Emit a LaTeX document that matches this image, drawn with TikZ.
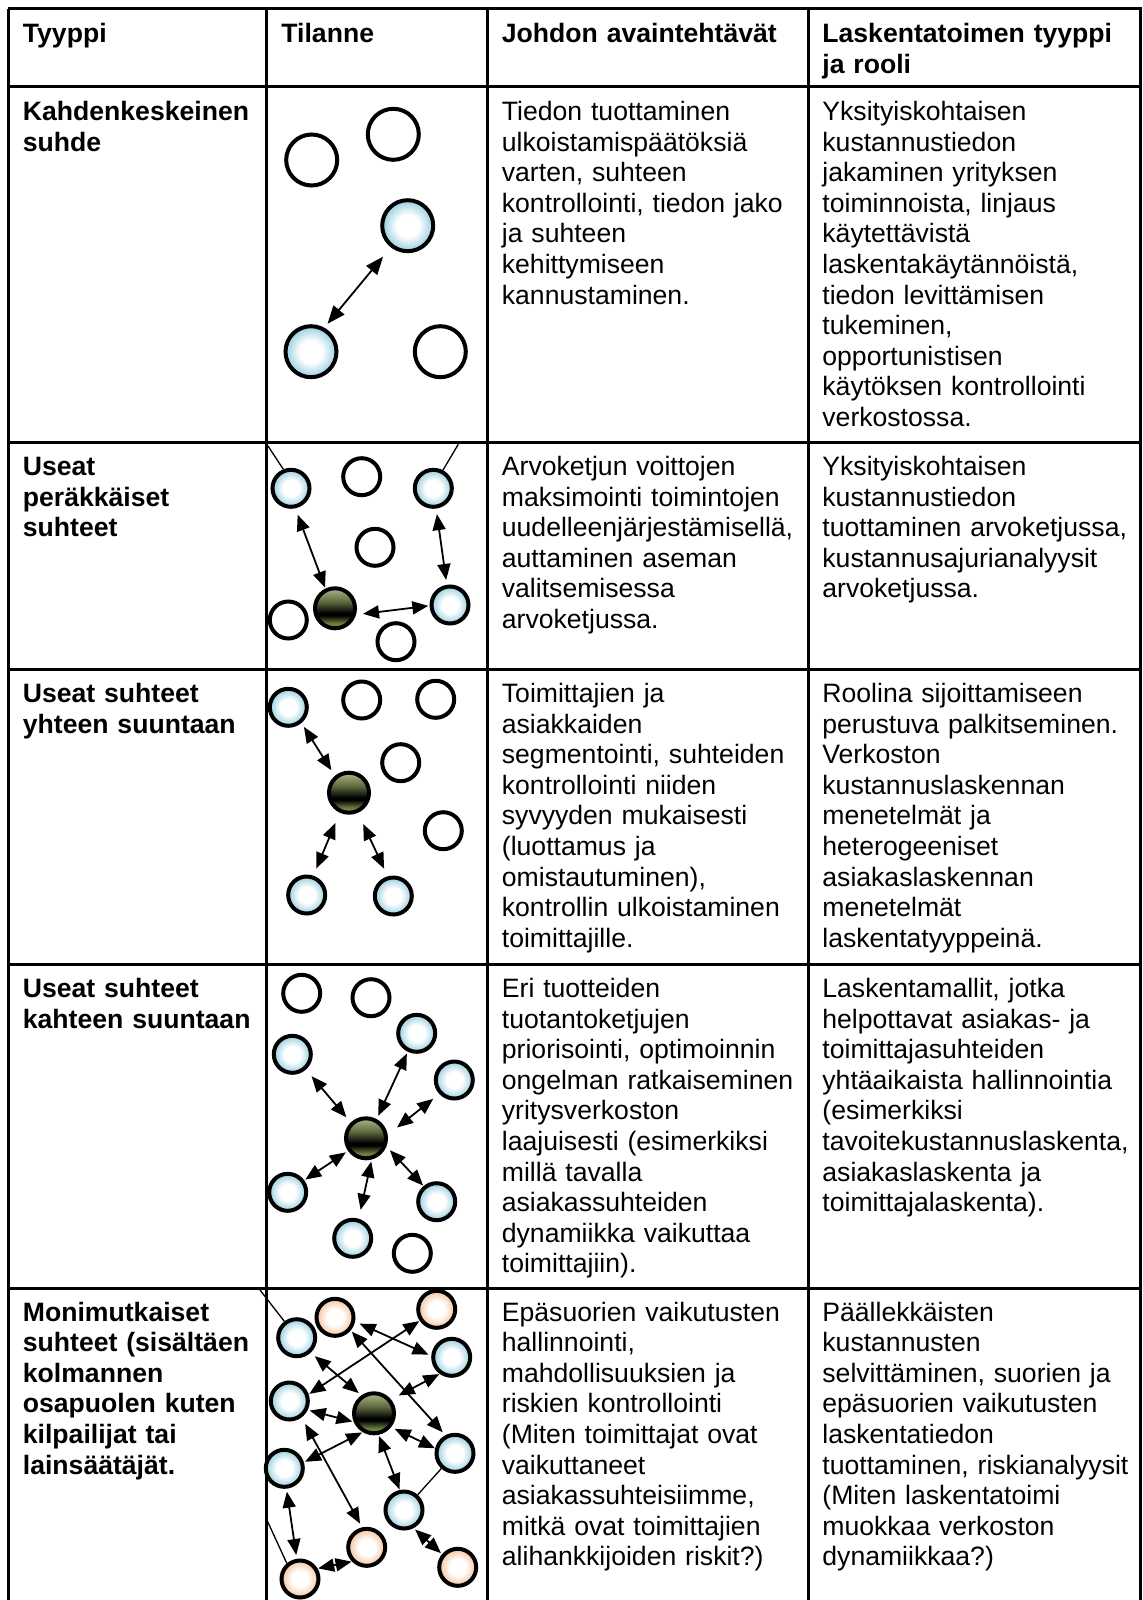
\documentclass[tikz,border=0pt]{standalone}
\usepackage{fontspec}
\setmainfont{Liberation Sans}
\usetikzlibrary{arrows.meta}

\definecolor{bluerim}{RGB}{150,206,224}
\definecolor{orangerim}{RGB}{244,194,156}
\definecolor{dktop}{RGB}{172,184,136}
\definecolor{dkmid}{RGB}{92,104,62}
\definecolor{dkbot}{RGB}{110,128,62}

\pgfdeclareradialshading{blueball}{\pgfpointorigin}{color(0bp)=(white); color(11bp)=(white); color(25bp)=(bluerim); color(50bp)=(bluerim)}
\pgfdeclareradialshading{orangeball}{\pgfpointorigin}{color(0bp)=(white); color(11bp)=(white); color(25bp)=(orangerim); color(50bp)=(orangerim)}
\pgfdeclareverticalshading{darkball}{100bp}{color(0bp)=(dkbot); color(31bp)=(dkbot); color(41bp)=(black); color(44bp)=(black); color(58bp)=(dkmid); color(75bp)=(dktop); color(100bp)=(dktop)}

\tikzset{
  gridline/.style={line width=1.5pt},
  ball/.style={circle, draw, line width=2pt, inner sep=0pt, minimum size=18.5pt},
  wball/.style={ball, fill=white},
  bball/.style={ball, shading=blueball},
  oball/.style={ball, shading=orangeball},
  dball/.style={ball, shading=darkball, minimum size=20pt},
  bigw/.style={wball, minimum size=25.5pt},
  bigb/.style={bball, minimum size=25.5pt},
  arr/.style={{Triangle[length=8pt,width=6.5pt]}-{Triangle[length=8pt,width=6.5pt]}, line width=0.9pt},
  bigarr/.style={{Triangle[length=9pt,width=7pt]}-{Triangle[length=9pt,width=7pt]}, line width=0.9pt},
  thinl/.style={line width=0.65pt},
  txt/.style={anchor=base west, inner sep=0pt, text width=200pt, align=left, font=\fontsize{13.3}{15.3}\selectfont},
  btxt/.style={txt, font=\fontsize{13.3}{15.3}\selectfont\bfseries},
}

\begin{document}
\begin{tikzpicture}[x=0.5pt,y=-0.5pt]
\useasboundingbox (0,0) rectangle (1142,1600);

% grid
\foreach \yy in {9,87,442,669,964,1288} \draw[gridline] (8,\yy) -- (1142,\yy);
\foreach \xx in {8,266.5,487,808,1140} \draw[gridline] (\xx,9) -- (\xx,1602);

% header
\node[btxt] (h1) at (22.5,43) {Tyyppi};
\node[btxt] (h2) at (281,43) {Tilanne};
\node[btxt] (h3) at (501.5,43) {Johdon avaintehtävät};
\node[btxt] (h4) at (822,43) {Laskentatoimen tyyppi\\ja rooli};

% column 1
\node[btxt] (t11) at (22.5,120.5) {Kahdenkeskeinen\\suhde};
\node[btxt] (t21) at (22.5,475.5) {Useat\\peräkkäiset\\suhteet};
\node[btxt] (t31) at (22.5,702.5) {Useat suhteet\\yhteen suuntaan};
\node[btxt] (t41) at (22.5,997.5) {Useat suhteet\\kahteen suuntaan};
\node[btxt] (t51) at (22.5,1321) {Monimutkaiset\\suhteet (sisältäen\\kolmannen\\osapuolen kuten\\kilpailijat tai\\lainsäätäjät.};

% column 3
\node[txt] (t13) at (501.5,120.5) {Tiedon tuottaminen\\ulkoistamispäätöksiä\\varten, suhteen\\kontrollointi, tiedon jako\\ja suhteen\\kehittymiseen\\kannustaminen.};
\node[txt] (t23) at (501.5,475.5) {Arvoketjun voittojen\\maksimointi toimintojen\\uudelleenjärjestämisellä,\\auttaminen aseman\\valitsemisessa\\arvoketjussa.};
\node[txt] (t33) at (501.5,702.5) {Toimittajien ja\\asiakkaiden\\segmentointi, suhteiden\\kontrollointi niiden\\syvyyden mukaisesti\\(luottamus ja\\omistautuminen),\\kontrollin ulkoistaminen\\toimittajille.};
\node[txt] (t43) at (501.5,997.5) {Eri tuotteiden\\tuotantoketjujen\\priorisointi, optimoinnin\\ongelman ratkaiseminen\\yritysverkoston\\laajuisesti (esimerkiksi\\millä tavalla\\asiakassuhteiden\\dynamiikka vaikuttaa\\toimittajiin).};
\node[txt] (t53) at (501.5,1321) {Epäsuorien vaikutusten\\hallinnointi,\\mahdollisuuksien ja\\riskien kontrollointi\\(Miten toimittajat ovat\\vaikuttaneet\\asiakassuhteisiimme,\\mitkä ovat toimittajien\\alihankkijoiden riskit?)};

% column 4
\node[txt] (t14) at (822,120.5) {Yksityiskohtaisen\\kustannustiedon\\jakaminen yrityksen\\toiminnoista, linjaus\\käytettävistä\\laskentakäytännöistä,\\tiedon levittämisen\\tukeminen,\\opportunistisen\\käytöksen kontrollointi\\verkostossa.};
\node[txt] (t24) at (822,475.5) {Yksityiskohtaisen\\kustannustiedon\\tuottaminen arvoketjussa,\\kustannusajurianalyysit\\arvoketjussa.};
\node[txt] (t34) at (822,702.5) {Roolina sijoittamiseen\\perustuva palkitseminen.\\Verkoston\\kustannuslaskennan\\menetelmät ja\\heterogeeniset\\asiakaslaskennan\\menetelmät\\laskentatyyppeinä.};
\node[txt] (t44) at (822,997.5) {Laskentamallit, jotka\\helpottavat asiakas- ja\\toimittajasuhteiden\\yhtäaikaista hallinnointia\\(esimerkiksi\\tavoitekustannuslaskenta,\\asiakaslaskenta ja\\toimittajalaskenta).};
\node[txt] (t54) at (822,1321) {Päällekkäisten\\kustannusten\\selvittäminen, suorien ja\\epäsuorien vaikutusten\\laskentatiedon\\tuottaminen, riskianalyysit\\(Miten laskentatoimi\\muokkaa verkoston\\dynamiikkaa?)};

% ---- row 1 diagram
\node[bigw] (r1a) at (311.7,160) {};
\node[bigw] (r1b) at (393.3,134.3) {};
\node[bigb] (r1c) at (407.7,225.7) {};
\node[bigb] (r1d) at (311,351.7) {};
\node[bigw] (r1e) at (440.3,351.7) {};
\draw[bigarr, shorten <=2.5pt, shorten >=6pt] (r1d.61) -- (r1c.232);

% ---- row 2 diagram
\node[bball] (r2a) at (291,488.3) {};
\node[wball] (r2b) at (361.7,476.7) {};
\node[bball] (r2c) at (433.3,488.3) {};
\node[wball] (r2d) at (375,547.3) {};
\node[dball] (r2e) at (335,608.3) {};
\node[wball] (r2f) at (288.3,620) {};
\node[wball] (r2g) at (396,641.7) {};
\node[bball] (r2h) at (450,605) {};
\coordinate (r2p) at (268,446);
\coordinate (r2q) at (458.3,444.3);
\draw[thinl] (r2a.112) -- (r2p);
\draw[thinl] (r2c.62) -- (r2q);
\draw[arr, shorten <=3.4pt, shorten >=0.5pt] (r2a.-78) -- (r2e.116);
\draw[arr, shorten <=2.8pt, shorten >=2.4pt] (r2c.-82.5) -- (r2h.99);
\draw[arr, shorten <=3.5pt, shorten >=0.6pt] (r2e.-17.5) -- (r2h.182);

% ---- row 3 diagram
\node[bball] (r3a) at (288.3,707.3) {};
\node[wball] (r3b) at (361.7,700) {};
\node[wball] (r3c) at (435.7,699.3) {};
\node[wball] (r3d) at (400.7,762.7) {};
\node[dball] (r3e) at (349,792.7) {};
\node[wball] (r3f) at (443.3,830.7) {};
\node[bball] (r3g) at (306.7,895) {};
\node[bball] (r3h) at (393.3,896) {};
\draw[arr, shorten <=2.3pt, shorten >=3.3pt] (r3a.-50.5) -- (r3e.130.6);
\draw[arr, shorten <=5.6pt, shorten >=3.8pt] (r3e.-115.8) -- (r3g.71.4);
\draw[arr, shorten <=6.2pt, shorten >=4.2pt] (r3e.-66.5) -- (r3h.106.7);

% ---- row 4 diagram
\node[wball] (r4a) at (301.7,993.3) {};
\node[wball] (r4b) at (371,997.7) {};
\node[bball] (r4c) at (416.7,1033.3) {};
\node[bball] (r4d) at (292.3,1054.3) {};
\node[bball] (r4e) at (454.3,1080) {};
\node[dball] (r4f) at (366,1138.3) {};
\node[bball] (r4g) at (287.7,1192.3) {};
\node[bball] (r4h) at (436.7,1201.7) {};
\node[bball] (r4i) at (352.7,1238.3) {};
\node[wball] (r4j) at (412.3,1253.3) {};
\draw[arr, shorten <=4.3pt, shorten >=3.4pt] (r4d.-48.2) -- (r4f.134);
\draw[arr, shorten <=1pt, shorten >=1.8pt] (r4c.-116.6) -- (r4f.61.6);
\draw[arr, shorten <=3.9pt, shorten >=5.9pt] (r4e.-137.9) -- (r4f.9.8);
\draw[arr, shorten <=0.6pt, shorten >=1.3pt] (r4g.36.9) -- (r4f.-145.2);
\draw[arr, shorten <=4.5pt, shorten >=1pt] (r4i.73.7) -- (r4f.-75);
\draw[arr, shorten <=0.3pt, shorten >=2.5pt] (r4h.130.5) -- (r4f.-22.6);

% ---- row 5 diagram
\node[oball] (r5a) at (335,1317.3) {};
\node[oball] (r5b) at (436.7,1309.3) {};
\node[bball] (r5c) at (296.7,1337.7) {};
\node[bball] (r5d) at (451.7,1357.3) {};
\node[bball] (r5e) at (289.3,1401) {};
\node[dball] (r5f) at (374,1413.3) {};
\node[bball] (r5g) at (455,1453.3) {};
\node[bball] (r5h) at (284.3,1468.3) {};
\node[bball] (r5i) at (404,1510) {};
\node[oball] (r5j) at (366.7,1547.3) {};
\node[oball] (r5k) at (300,1579) {};
\node[oball] (r5l) at (457.7,1567.3) {};
\coordinate (r5p) at (260,1290);
\coordinate (r5q) at (267.7,1521.7);
\draw[thinl] (r5c.127) -- (r5p);
\draw[thinl] (r5k.130) -- (r5q);
\draw[thinl] (r5g) -- (r5i);
\draw[arr, shorten <=2.5pt, shorten >=1.5pt] (r5a.-12.2) -- (r5d.176.1);
\draw[arr, shorten <=0.8pt, shorten >=2pt] (r5a.-40.8) -- (r5g.118.4);
\draw[arr, shorten <=0.4pt, shorten >=0.3pt] (r5e.19.3) -- (r5b.-146.3);
\draw[arr, shorten <=2.7pt, shorten >=1.7pt] (r5c.-47.2) -- (r5f.125);
\draw[arr, shorten <=4.3pt, shorten >=0.2pt] (r5f.39.9) -- (r5d.-126.6);
\draw[arr, shorten <=1pt, shorten >=0.7pt] (r5e.-26.6) -- (r5f.-157.9);
\draw[arr, shorten <=0.6pt, shorten >=0.3pt] (r5h.17.7) -- (r5f.-121.6);
\draw[arr, shorten <=2pt, shorten >=0.1pt] (r5f.-39.1) -- (r5g.166);
\draw[arr, shorten <=0.6pt, shorten >=0.3pt] (r5f.-78.8) -- (r5i.102.3);
\draw[arr, shorten <=3.7pt, shorten >=2.1pt] (r5e.-53.2) -- (r5j.103.4);
\draw[arr, shorten <=1.5pt, shorten >=1.9pt] (r5h.-84.1) -- (r5k.99.5);
\draw[arr, shorten <=0.3pt, shorten >=0.2pt] (r5k.31) -- (r5j.-136.2);
\draw[arr, shorten <=1pt, shorten >=0.7pt] (r5i.-62.8) -- (r5l.140);
\end{tikzpicture}
\end{document}
